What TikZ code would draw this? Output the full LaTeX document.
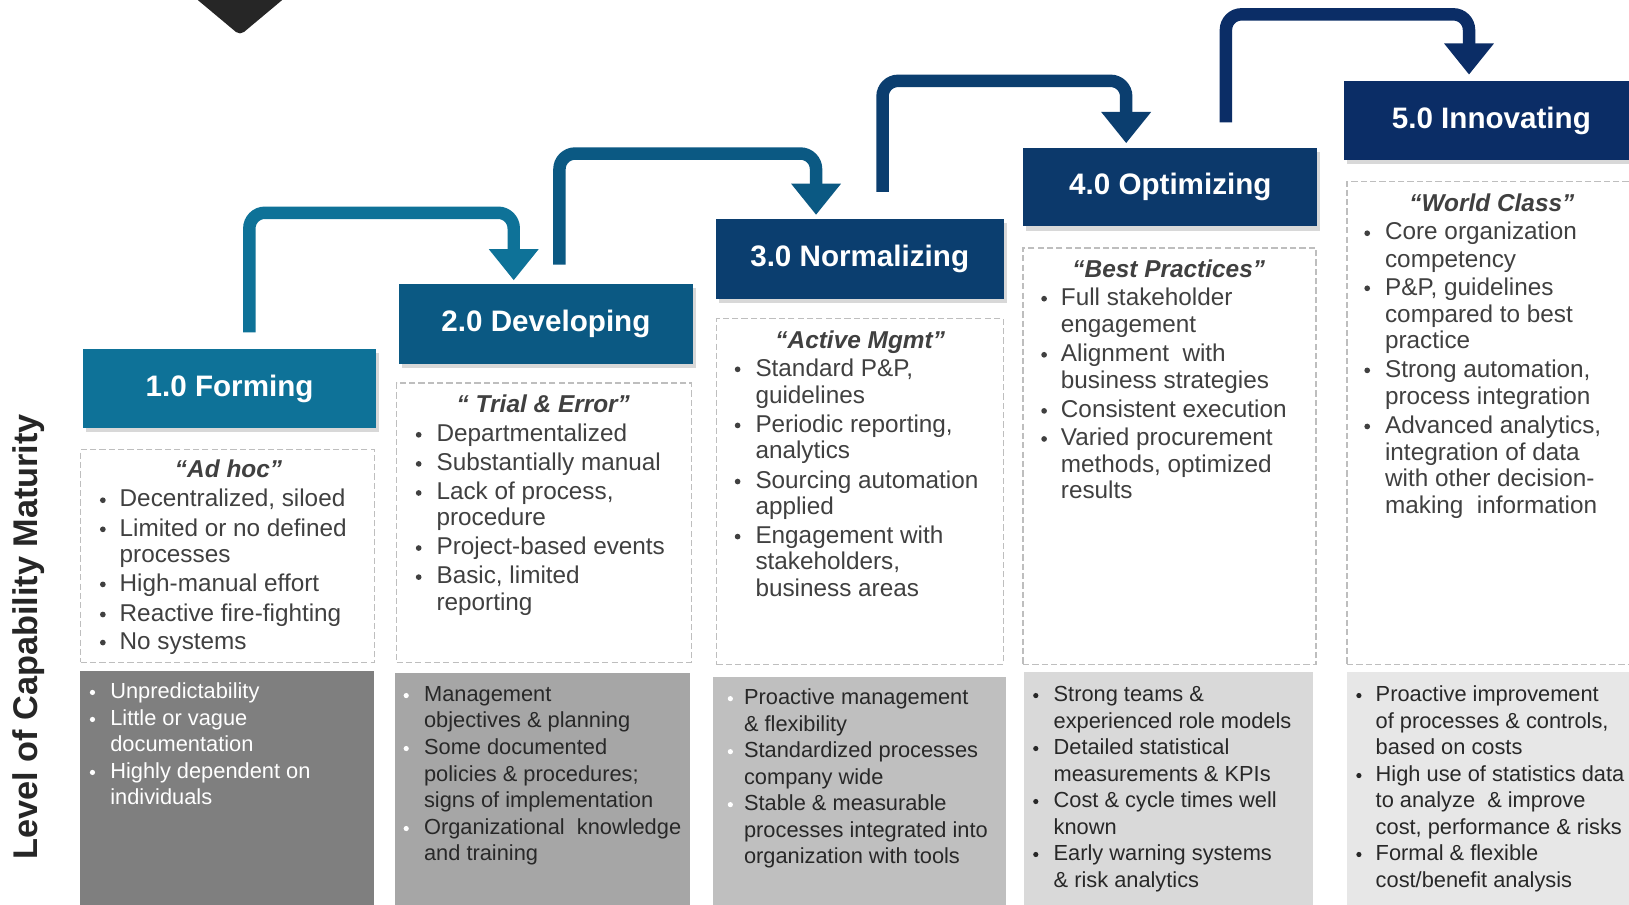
\documentclass[tikz,border=0pt]{standalone}
\usepackage{fontspec}
\setmainfont{Liberation Sans}
\usetikzlibrary{arrows.meta,shadows}
\definecolor{cA}{RGB}{14,114,152}
\definecolor{cB}{RGB}{11,89,131}
\definecolor{cC}{RGB}{11,62,111}
\definecolor{cD}{RGB}{12,57,107}
\definecolor{cE}{RGB}{11,45,102}
\definecolor{gA}{RGB}{127,127,127}
\definecolor{gB}{RGB}{166,166,166}
\definecolor{gC}{RGB}{191,191,191}
\definecolor{gD}{RGB}{217,217,217}
\definecolor{gE}{RGB}{231,231,231}
\definecolor{txt}{RGB}{64,64,64}
\definecolor{txtd}{RGB}{40,40,40}
\definecolor{dashc}{RGB}{190,190,190}
\definecolor{tric}{RGB}{38,38,38}
\newcounter{ln}
\newcommand\TX[4]{\stepcounter{ln}\node[#1] (t\arabic{ln}) at (#2,#3) {#4};}
\newcommand\BB[3]{\stepcounter{ln}\node[dotb, fill=#1] (b\arabic{ln}) at (#2,#3) {};}
\newcommand\SB[3]{\stepcounter{ln}\node[dots, fill=#1] (b\arabic{ln}) at (#2,#3) {};}
\tikzset{
  hdr/.style={fill=#1, text=white, font=\bfseries\fontsize{28.5}{30}\selectfont, inner sep=0pt,
    drop shadow={shadow xshift=3pt, shadow yshift=-4pt, opacity=0.3}},
  dbox/.style={draw=dashc, line width=1.3pt, dash pattern=on 6pt off 3pt, anchor=north west, inner sep=0pt},
  gbox/.style={fill=#1, anchor=north west, inner sep=0pt},
  arr/.style={draw=#1, line width=12pt, rounded corners=15pt, -{Triangle[width=46pt,length=30pt]}},
  body/.style={font=\fontsize{23.4}{26}\selectfont, text=txt, inner sep=0pt, anchor=base west},
  small/.style={font=\fontsize{21}{24}\selectfont, text=txtd, inner sep=0pt, anchor=base west},
  smallw/.style={small, text=white},
  qt/.style={font=\bfseries\itshape\fontsize{23.5}{26}\selectfont, text=txt, inner sep=0pt, anchor=base},
  dotb/.style={circle, inner sep=0pt, minimum size=5.5pt, yshift=6.5pt},
  dots/.style={circle, inner sep=0pt, minimum size=5pt, yshift=6pt}
}
\begin{document}
\begin{tikzpicture}[x=1pt,y=-1pt]
\useasboundingbox (0,0) rectangle (1568,871);
\clip (0,0) rectangle (1568,871);
\fill[white] (0,0) rectangle (1568,871);

% top triangle
\fill[tric, rounded corners=5pt] (176,-12) -- (286,-12) -- (231,34) -- cycle;

% side label
\node[font=\bfseries\fontsize{33}{33}\selectfont, text=tric, rotate=90] (lvl) at (28,613) {Level of Capability Maturity};

% dashed boxes
\node[dbox, minimum width=283pt, minimum height=205pt] (d1) at (77,432) {};
\node[dbox, minimum width=284pt, minimum height=269pt] (d2) at (381,368) {};
\node[dbox, minimum width=276pt, minimum height=333pt] (d3) at (689,306) {};
\node[dbox, minimum width=282pt, minimum height=401pt] (d4) at (984,238) {};
\node[dbox, minimum width=290pt, minimum height=465pt] (d5) at (1296,174) {};

% grey boxes
\node[gbox=gA, minimum width=283pt, minimum height=240pt] (g1) at (77,646) {};
\node[gbox=gB, minimum width=284pt, minimum height=240pt] (g2) at (380,648) {};
\node[gbox=gC, minimum width=282pt, minimum height=240pt] (g3) at (686,651) {};
\node[gbox=gD, minimum width=279pt, minimum height=240pt] (g4) at (985,647) {};
\node[gbox=gE, minimum width=290pt, minimum height=240pt] (g5) at (1296,647) {};

% headers
\node[hdr=cA, minimum width=282pt, minimum height=76pt] (h1) at (221,374) {1.0 Forming};
\node[hdr=cB, minimum width=283pt, minimum height=77pt] (h2) at (525.5,311.5) {2.0 Developing};
\node[hdr=cC, minimum width=277pt, minimum height=77pt] (h3) at (827.5,249.5) {3.0 Normalizing};
\node[hdr=cD, minimum width=283pt, minimum height=76pt] (h4) at (1126.5,180) {4.0 Optimizing};
\node[hdr=cE, minimum width=283pt, minimum height=76pt] (h5) at (1435.5,116) {5.0 Innovating};

% arrows
\draw[arr=cA] ([xshift=19pt,yshift=16pt]h1.north) -- ++(0,-115) -| ([xshift=-31pt,yshift=3pt]h2.north);
\draw[arr=cB] ([xshift=13pt,yshift=18pt]h2.north) -- ++(0,-107) -| ([xshift=-42pt,yshift=4pt]h3.north);
\draw[arr=cC] ([xshift=22pt,yshift=26pt]h3.north) -- ++(0,-107) -| ([xshift=-42.5pt,yshift=4pt]h4.north);
\draw[arr=cE] ([xshift=53.5pt,yshift=24pt]h4.north) -- ++(0,-104) -| ([xshift=-21.5pt,yshift=6pt]h5.north);

% ---- column 1 ----
\TX{qt}{220}{460}{“Ad hoc”}
\BB{txt}{99}{488}\TX{body}{115}{488}{Decentralized, siloed}
\BB{txt}{99}{516}\TX{body}{115}{516}{Limited or no defined}
\TX{body}{115}{541}{processes}
\BB{txt}{99}{569}\TX{body}{115}{569}{High-manual effort}
\BB{txt}{99}{598}\TX{body}{115}{598}{Reactive fire-fighting}
\BB{txt}{99}{625}\TX{body}{115}{625}{No systems}

% ---- column 2 ----
\TX{qt}{523}{397}{“ Trial \& Error”}
\BB{txt}{403}{425}\TX{body}{420}{425}{Departmentalized}
\BB{txt}{403}{453}\TX{body}{420}{453}{Substantially manual}
\BB{txt}{403}{481}\TX{body}{420}{481}{Lack of process,}
\TX{body}{420}{506}{procedure}
\BB{txt}{403}{534}\TX{body}{420}{534}{Project-based events}
\BB{txt}{403}{562}\TX{body}{420}{562}{Basic, limited}
\TX{body}{420}{588}{reporting}

% ---- column 3 ----
\TX{qt}{828}{335}{“Active Mgmt”}
\BB{txt}{710}{362}\TX{body}{727}{362}{Standard P\&P,}
\TX{body}{727}{388}{guidelines}
\BB{txt}{710}{416}\TX{body}{727}{416}{Periodic reporting,}
\TX{body}{727}{441}{analytics}
\BB{txt}{710}{470}\TX{body}{727}{470}{Sourcing automation}
\TX{body}{727}{495}{applied}
\BB{txt}{710}{523}\TX{body}{727}{523}{Engagement with}
\TX{body}{727}{548}{stakeholders,}
\TX{body}{727}{574}{business areas}

% ---- column 4 ----
\TX{qt}{1125}{267}{“Best Practices”}
\BB{txt}{1005}{294}\TX{body}{1021}{294}{Full stakeholder}
\TX{body}{1021}{320}{engagement}
\BB{txt}{1005}{348}\TX{body}{1021}{348}{Alignment\ \ with}
\TX{body}{1021}{374}{business strategies}
\BB{txt}{1005}{402}\TX{body}{1021}{402}{Consistent execution}
\BB{txt}{1005}{429}\TX{body}{1021}{429}{Varied procurement}
\TX{body}{1021}{455}{methods, optimized}
\TX{body}{1021}{480}{results}

% ---- column 5 ----
\TX{qt}{1436}{204}{“World Class”}
\BB{txt}{1316}{231}\TX{body}{1333}{231}{Core organization}
\TX{body}{1333}{257}{competency}
\BB{txt}{1316}{284}\TX{body}{1333}{284}{P\&P, guidelines}
\TX{body}{1333}{310}{compared to best}
\TX{body}{1333}{335}{practice}
\BB{txt}{1316}{363}\TX{body}{1333}{363}{Strong automation,}
\TX{body}{1333}{389}{process integration}
\BB{txt}{1316}{417}\TX{body}{1333}{417}{Advanced analytics,}
\TX{body}{1333}{443}{integration of data}
\TX{body}{1333}{468}{with other decision-}
\TX{body}{1333}{494}{making\ \ information}

% ---- grey 1 ----
\SB{white}{89}{672.5}\TX{smallw}{106}{672.5}{Unpredictability}
\SB{white}{89}{698.5}\TX{smallw}{106}{698.5}{Little or vague}
\TX{smallw}{106}{723.5}{documentation}
\SB{white}{89}{749.5}\TX{smallw}{106}{749.5}{Highly dependent on}
\TX{smallw}{106}{774.5}{individuals}

% ---- grey 2 ----
\SB{white}{391}{675.5}\TX{small}{408}{675.5}{Management}
\TX{small}{408}{700.5}{objectives \& planning}
\SB{white}{391}{726.5}\TX{small}{408}{726.5}{Some documented}
\TX{small}{408}{752.5}{policies \& procedures;}
\TX{small}{408}{777.5}{signs of implementation}
\SB{white}{391}{803.5}\TX{small}{408}{803.5}{Organizational\ \ knowledge}
\TX{small}{408}{828.5}{and training}

% ---- grey 3 ----
\SB{white}{703}{678.5}\TX{small}{716}{678.5}{Proactive management}
\TX{small}{716}{704.5}{\& flexibility}
\SB{white}{703}{729.5}\TX{small}{716}{729.5}{Standardized processes}
\TX{small}{716}{755.5}{company wide}
\SB{white}{703}{780.5}\TX{small}{716}{780.5}{Stable \& measurable}
\TX{small}{716}{806.5}{processes integrated into}
\TX{small}{716}{831.5}{organization with tools}

% ---- grey 4 ----
\SB{txtd}{997}{675.5}\TX{small}{1014}{675.5}{Strong teams \&}
\TX{small}{1014}{701.5}{experienced role models}
\SB{txtd}{997}{726.5}\TX{small}{1014}{726.5}{Detailed statistical}
\TX{small}{1014}{752.5}{measurements \& KPIs}
\SB{txtd}{997}{777.5}\TX{small}{1014}{777.5}{Cost \& cycle times well}
\TX{small}{1014}{803.5}{known}
\SB{txtd}{997}{828.5}\TX{small}{1014}{828.5}{Early warning systems}
\TX{small}{1014}{854.5}{\& risk analytics}

% ---- grey 5 ----
\SB{txtd}{1308}{675.5}\TX{small}{1324}{675.5}{Proactive improvement}
\TX{small}{1324}{701.5}{of processes \& controls,}
\TX{small}{1324}{726.5}{based on costs}
\SB{txtd}{1308}{752.5}\TX{small}{1324}{752.5}{High use of statistics data}
\TX{small}{1324}{777.5}{to analyze\ \ \& improve}
\TX{small}{1324}{803.5}{cost, performance \& risks}
\SB{txtd}{1308}{828.5}\TX{small}{1324}{828.5}{Formal \& flexible}
\TX{small}{1324}{854.5}{cost/benefit analysis}
\end{tikzpicture}
\end{document}
